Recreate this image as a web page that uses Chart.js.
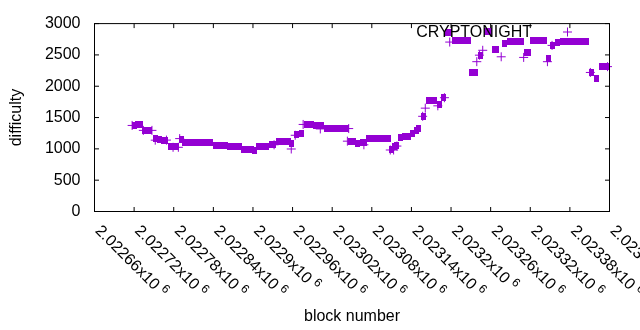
<!DOCTYPE html>
<html>
<head>
<meta charset="utf-8">
<script src="https://cdn.jsdelivr.net/npm/chart.js@4.4.1/dist/chart.umd.min.js"></script>
<style>
  html, body { margin: 0; padding: 0; background: #fff; }
</style>
</head>
<body>
<canvas id="chart" width="640" height="330"></canvas>
<script>
// squares: block number / difficulty
const squareBlocks = [
  2022721, 2022725, 2022729, 2022736, 2022742, 2022744, 2022753, 2022759, 2022764, 2022767,
  2022775, 2022780, 2022784, 2022792, 2022796, 2022799, 2022806, 2022812, 2022818, 2022824,
  2022830, 2022835, 2022843, 2022849, 2022855, 2022858, 2022864, 2022870, 2022876, 2022879,
  2022886, 2022892, 2022898, 2022902, 2022909, 2022915, 2022921, 2022928, 2022931, 2022938,
  2022945, 2022951, 2022954, 2022959, 2022966, 2022974, 2022981, 2022988, 2022995, 2023001,
  2023004, 2023011, 2023017, 2023023, 2023029, 2023035, 2023042, 2023048, 2023053, 2023059,
  2023066, 2023069, 2023075, 2023080, 2023086, 2023093, 2023099, 2023106, 2023110, 2023114,
  2023117, 2023124, 2023129, 2023135, 2023142, 2023147, 2023151, 2023158, 2023166, 2023171,
  2023175, 2023182, 2023189, 2023195, 2023197, 2023205, 2023211, 2023217, 2023223, 2023227,
  2023231, 2023237, 2023244, 2023254, 2023258, 2023266, 2023269, 2023281, 2023289, 2023295,
  2023301, 2023306, 2023314, 2023318, 2023324, 2023330, 2023336, 2023341, 2023348, 2023354,
  2023361, 2023369, 2023375, 2023382, 2023388, 2023394, 2023400, 2023405, 2023412, 2023420,
  2023428, 2023435
];
const squareDifficulty = [
  1375, 1390, 1390, 1295, 1295, 1295, 1160, 1145, 1140, 1140,
  1035, 1035, 1035, 1157, 1107, 1107, 1097, 1097, 1097, 1097,
  1097, 1097, 1060, 1060, 1060, 1060, 1030, 1030, 1030, 1030,
  992, 992, 985, 970, 1042, 1042, 1042, 1073, 1073, 1123,
  1123, 1123, 1123, 1078, 1222, 1250, 1389, 1389, 1374, 1374,
  1374, 1324, 1324, 1324, 1324, 1324, 1324, 1123, 1123, 1078,
  1107, 1107, 1160, 1170, 1170, 1170, 1170, 1170, 982, 1040,
  1060, 1183, 1198, 1198, 1250, 1287, 1332, 1515, 1765, 1765,
  1765, 1713, 1815, 2855, 2855, 2737, 2737, 2737, 2737, 2737,
  2220, 2220, 2490, 2873, 2873, 2580, 2580, 2685, 2720, 2720,
  2720, 2720, 2534, 2534, 2737, 2737, 2737, 2737, 2436, 2645,
  2695, 2717, 2717, 2717, 2717, 2717, 2717, 2717, 2220, 2130,
  2313, 2313
];

// plus signs (CRYPTONIGHT)
const plusBlocks = [
  2022717, 2022734, 2022747, 2022752, 2022769, 2022779, 2022787, 2022789, 2022932, 2022958,
  2022964, 2022976, 2023002, 2023043, 2023045, 2023068, 2023108, 2023113, 2023118, 2023157,
  2023161, 2023180, 2023190, 2023198, 2023239, 2023243, 2023248, 2023276, 2023310, 2023346,
  2023353, 2023411, 2023437
];
const plusDifficulty = [
  1374, 1295, 1295, 1139, 1140, 1025, 1025, 1164, 1065, 998,
  1217, 1390, 1318, 1123, 1324, 1065, 982, 982, 1045, 1520,
  1650, 1687, 1817, 2705, 2392, 2496, 2574, 2470, 2460, 2392,
  2652, 2220, 2313
];

const xMin = 2022660, xMax = 2023440, xStep = 60;
const yMin = 0, yMax = 3000, yStep = 500;

const violet = '#9400d3';
const fontFamily = '"Liberation Sans", Arial, sans-serif';
const tickLen = 4.5;

// small filled rectangle used as marker
const rectImg = document.createElement('canvas');
rectImg.width = 5;
rectImg.height = 7;
const rc = rectImg.getContext('2d');
rc.fillStyle = violet;
rc.fillRect(0, 0, 5, 7);

const framePlugin = {
  id: 'frame',
  afterDatasetsDraw(chart) {
    const { ctx, chartArea: a, scales: { x, y } } = chart;
    ctx.save();
    ctx.strokeStyle = '#000';
    ctx.lineWidth = 1;
    ctx.strokeRect(a.left, a.top, a.right - a.left, a.bottom - a.top);

    // inward ticks on all four sides
    ctx.beginPath();
    y.ticks.forEach(t => {
      const py = y.getPixelForValue(t.value);
      ctx.moveTo(a.left, py); ctx.lineTo(a.left + tickLen, py);
      ctx.moveTo(a.right, py); ctx.lineTo(a.right - tickLen, py);
    });
    x.ticks.forEach(t => {
      const px = x.getPixelForValue(t.value);
      ctx.moveTo(px, a.bottom); ctx.lineTo(px, a.bottom - tickLen);
      ctx.moveTo(px, a.top); ctx.lineTo(px, a.top + tickLen);
    });
    ctx.stroke();

    // rotated x labels, gnuplot style
    ctx.fillStyle = '#000';
    x.ticks.forEach(t => {
      const px = x.getPixelForValue(t.value);
      const txt = String(+(t.value / 1e6).toFixed(5)) + 'x10';
      ctx.save();
      ctx.translate(px, a.bottom + 20);
      ctx.rotate(Math.PI / 4);
      ctx.font = '16px ' + fontFamily;
      ctx.textAlign = 'left';
      ctx.textBaseline = 'alphabetic';
      ctx.fillText(txt, 0, 0);
      const w = ctx.measureText(txt).width;
      ctx.font = '12px ' + fontFamily;
      ctx.fillText('6', w + 4, -6);
      ctx.restore();
    });

    // key
    ctx.font = '16px ' + fontFamily;
    ctx.textAlign = 'right';
    ctx.textBaseline = 'alphabetic';
    ctx.fillText(chart.data.datasets[1].label, 532, 36.5);
    ctx.strokeStyle = violet;
    ctx.beginPath();
    ctx.moveTo(563, 32); ctx.lineTo(572, 32);
    ctx.moveTo(567.5, 27.5); ctx.lineTo(567.5, 36.5);
    ctx.stroke();
    ctx.restore();
  }
};

new Chart(document.getElementById('chart'), {
  type: 'scatter',
  data: {
    datasets: [
      {
        label: 'squares',
        data: squareBlocks.map((b, i) => ({ x: b, y: squareDifficulty[i] })),
        pointStyle: rectImg,
        pointRadius: 4,
        showLine: false,
        clip: false
      },
      {
        label: 'CRYPTONIGHT',
        data: plusBlocks.map((b, i) => ({ x: b, y: plusDifficulty[i] })),
        pointStyle: 'cross',
        pointRadius: 4.5,
        borderColor: violet,
        backgroundColor: violet,
        borderWidth: 1,
        showLine: false,
        clip: false
      }
    ]
  },
  options: {
    responsive: false,
    animation: false,
    events: [],
    layout: { padding: { left: 0, right: 30.5, top: 19.5, bottom: 0 } },
    plugins: { legend: { display: false }, tooltip: { enabled: false } },
    scales: {
      x: {
        type: 'linear',
        min: xMin,
        max: xMax,
        ticks: { stepSize: xStep, display: false },
        grid: { display: false, drawTicks: false },
        border: { display: false },
        title: {
          display: true,
          text: 'block number',
          color: '#000',
          font: { family: fontFamily, size: 16 },
          padding: { top: 0, bottom: 4 }
        },
        afterFit: s => { s.height = 118.5; }
      },
      y: {
        min: yMin,
        max: yMax,
        ticks: {
          stepSize: yStep,
          color: '#000',
          padding: 14,
          font: { family: fontFamily, size: 16 },
          callback: v => String(v)
        },
        grid: { display: false, drawTicks: false },
        border: { display: false },
        title: {
          display: true,
          text: 'difficulty',
          color: '#000',
          font: { family: fontFamily, size: 16 },
          padding: { top: 7, bottom: 0 }
        },
        afterFit: s => { s.width = 94.5; }
      }
    }
  },
  plugins: [framePlugin]
});
</script>
</body>
</html>
